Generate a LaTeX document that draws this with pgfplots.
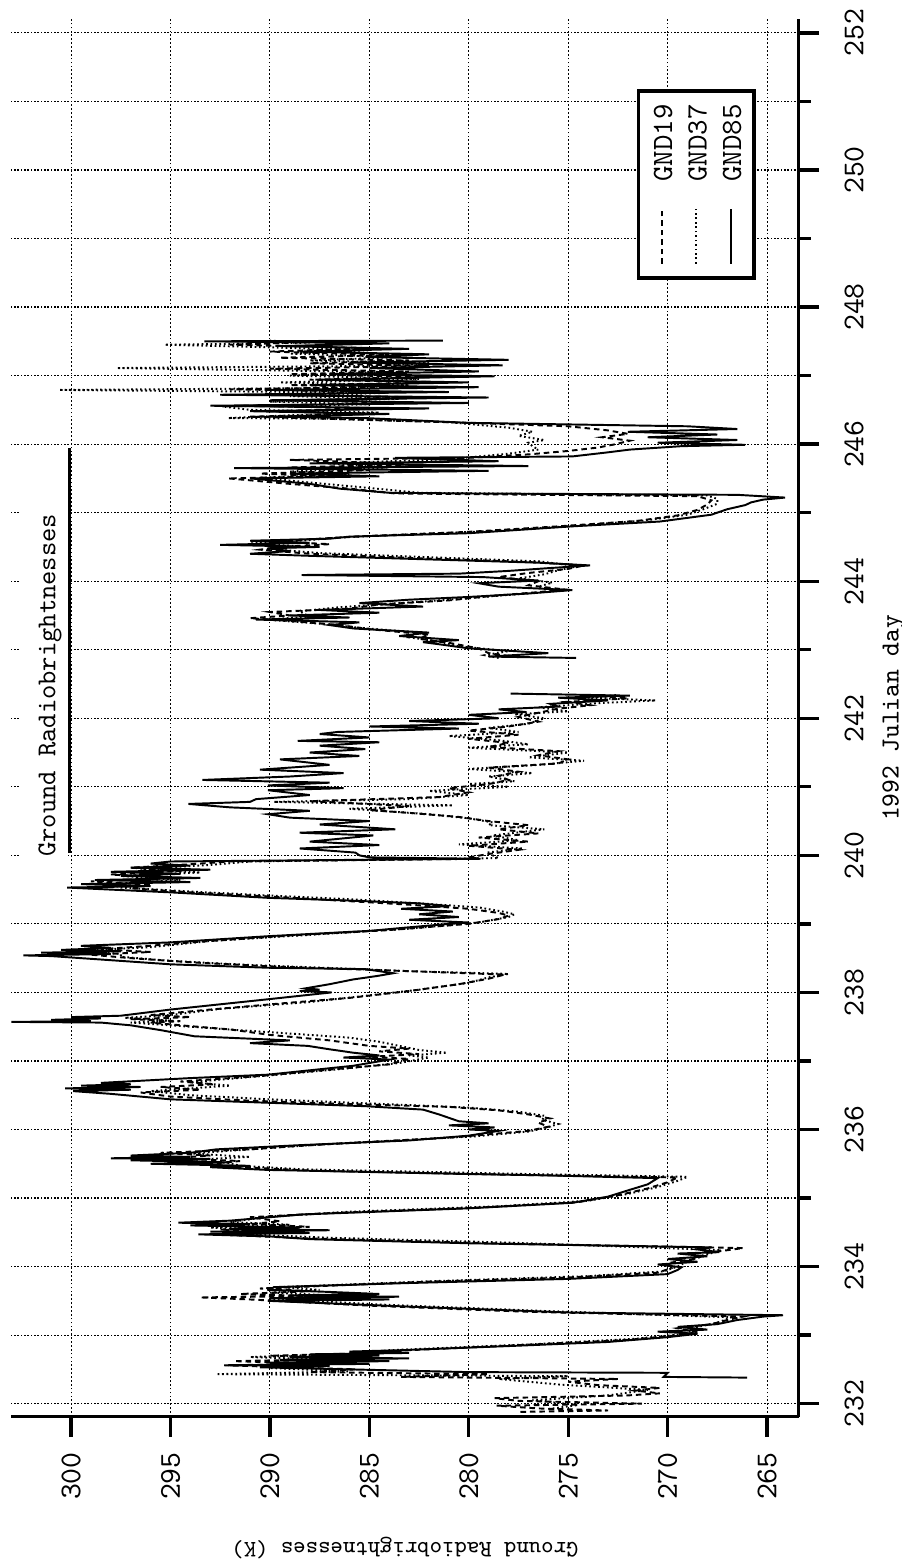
\documentclass[border=0pt]{standalone}
\usepackage{fontspec}
\usepackage{graphicx}
\usepackage{pgfplots}
\pgfplotsset{compat=1.18}
% typewriter face, spaced out like the Courier of the original
\newcommand\mono[1]{\ttfamily\fontsize{#1}{#1}\selectfont\addfontfeatures{LetterSpace=10}}

\begin{document}
\rotatebox{90}{%
\begin{tikzpicture}
\begin{axis}[
    scale only axis,
    width=503.1pt, height=283.7pt,
    xmin=231.81, xmax=252.2,
    ymin=263.4, ymax=303.03,
    axis lines*=left,
    axis line style={line width=1.1pt},
    xtick={232,234,...,252},
    minor xtick={233,235,...,251},
    ytick={265,270,...,300},
    tick align=outside,
    tick style={line width=1.2pt, black},
    major tick length=7.3pt,
    minor tick length=4.2pt,
    grid=both,
    major x grid style={line width=0.4pt, black, dash pattern=on 0.55pt off 0.65pt},
    minor x grid style={line width=0.4pt, black, dash pattern=on 0.55pt off 0.65pt},
    major y grid style={line width=0.4pt, black, dash pattern=on 0.6pt off 0.8pt},
    /pgf/number format/assume math mode=true,
    xticklabel={\pgfmathprintnumber{\tick}},
    yticklabel={\pgfmathprintnumber{\tick}},
    xticklabel style={font=\mono{10.9}, inner sep=0pt, yshift=-8.9pt},
    yticklabel style={font=\mono{10.9}, inner sep=0pt, xshift=-5.3pt},
    xlabel={1992 Julian day},
    xlabel style={font=\mono{9.4}, inner sep=0pt, anchor=north,
                  at={(axis description cs:0.5,-0.1054)}},
    ylabel={Ground Radiobrightnesses (K)},
    ylabel style={font=\mono{8.5}, inner sep=0pt, anchor=south,
                  at={(axis description cs:-0.0859,0.5)}},
    unbounded coords=jump,
    legend cell align=left,
    legend image code/.code={\draw[#1] (0pt,0pt) -- (19.8pt,0pt);},
    legend style={at={(0.950,0.0548)}, anchor=south east,
                  draw=black, line width=1.3pt,
                  inner xsep=4.8pt, inner ysep=4.6pt,
                  row sep=4.9pt, column sep=9.4pt,
                  font=\mono{10.6},
                  nodes={inner sep=0pt, text height=7.5pt, text depth=0pt}},
]

% GND19
\addplot[black, line width=0.7pt, dash pattern=on 2pt off 1.4pt] coordinates {
(231.88,277.4) (231.90,273.0) (231.93,276.5) (231.97,278.6) (232.00,271.3)
(232.04,277.5) (232.08,278.7) (232.12,272.0) (232.15,270.4) (232.19,271.6)
(232.23,270.4) (232.27,273.5) (232.32,275.0) (232.36,272.5) (232.39,283.4)
(232.43,279.0) (232.46,288.0) (232.50,285.7) (232.56,292.3) (232.58,287.0)
(232.62,291.8) (232.66,285.0) (232.70,290.0) (232.74,284.5) (232.78,283.0)
(232.86,277.0) (232.93,272.0) (232.99,269.8) (233.04,268.5) (233.10,269.5)
(233.16,267.8) (233.22,267.0) (233.27,266.2) (233.34,277.0) (233.43,285.0)
(233.52,291.0) (233.55,293.5) (233.57,288.0) (233.60,291.5) (233.64,288.0)
(233.68,290.5) (233.78,282.0) (233.84,275.0) (233.91,270.5) (233.98,269.8)
(234.05,270.0) (234.12,268.5) (234.20,268.0) (234.27,266.2) (234.34,279.0)
(234.41,288.0) (234.46,292.0) (234.50,289.0) (234.54,292.5) (234.58,288.0)
(234.62,291.0) (234.66,289.5) (234.72,291.0) (234.78,287.0) (234.86,279.5)
(234.94,274.5) (235.04,272.5) (235.14,271.0) (235.23,270.0) (235.30,269.5)
(235.34,278.0) (235.40,288.0) (235.46,292.0) (235.50,293.0) (235.54,291.5)
(235.58,295.0) (235.62,293.0) (235.66,295.5) (235.71,291.0) (235.76,288.6)
(235.82,285.0) (235.88,281.0) (235.93,279.0) (235.98,277.0) (236.04,276.0)
(236.10,276.5) (236.16,275.9) (236.22,277.0) (236.28,278.5) (236.33,281.0)
(236.37,286.0) (236.42,291.0) (236.48,295.0) (236.54,296.5) (236.58,293.5)
(236.62,295.5) (236.66,292.8) (236.70,294.5) (236.78,290.5) (236.86,287.5)
(236.95,284.0) (237.03,283.0) (237.06,285.0) (237.10,282.5) (237.14,284.5)
(237.18,283.0) (237.22,285.0) (237.30,287.0) (237.38,290.0) (237.46,292.0)
(237.52,294.5) (237.56,296.0) (237.58,294.5) (237.61,297.0) (237.64,294.0)
(237.67,296.0) (237.75,293.0) (237.85,289.0) (237.92,286.0) (238.02,283.0)
(238.12,280.5) (238.20,279.0) (238.26,278.2) (238.30,282.0) (238.33,285.0)
(238.38,290.0) (238.44,294.0) (238.50,297.0) (238.55,299.0) (238.59,296.0)
(238.63,298.5) (238.67,296.5) (238.74,293.5) (238.83,289.0) (238.91,284.0)
(239.00,280.0) (239.07,278.5) (239.12,278.0) (239.16,278.5) (239.22,280.0)
(239.28,283.0) (239.34,286.5) (239.40,290.0) (239.46,294.0) (239.52,297.0)
(239.57,296.0) (239.62,299.0) (239.67,295.0) (239.72,298.0) (239.77,294.5)
(239.82,297.0) (239.87,294.0) (239.91,292.0) (239.95,279.4) (239.97,280.0)
(240.02,279.0) (240.08,277.5) (240.14,280.0) (240.20,277.0) (240.26,279.5)
(240.32,276.5) (240.38,278.5) (240.44,277.0) (240.50,279.0) (240.56,280.5)
(240.62,283.0) (240.66,285.0) (240.72,283.0) (240.79,288.0) (240.85,281.5)
(240.92,280.0) (240.98,281.0) (241.04,279.0) (241.10,278.0) (241.16,278.5)
(241.22,277.5) (241.28,279.0) (241.34,275.5) (241.40,275.0) (241.46,276.5)
(241.52,275.5) (241.58,279.0) (241.64,278.0) (241.70,280.0) (241.76,277.5)
(241.82,280.0) (241.88,278.0) (241.95,276.5) (242.02,277.5) (242.08,276.5)
(242.14,275.5) (242.19,273.9) (242.24,275.0) (242.29,272.0) (242.34,274.0)
(242.6,nan)
(242.89,277.5) (242.95,279.0) (243.02,279.5) (243.10,281.0) (243.16,282.5)
(243.22,282.0) (243.30,285.0) (243.36,286.5) (243.42,289.0) (243.46,291.0)
(243.50,289.0) (243.55,290.0) (243.60,286.0) (243.66,284.5) (243.72,281.0)
(243.78,279.0) (243.84,276.5) (243.88,275.2) (243.94,277.0) (244.00,276.5)
(244.06,278.5) (244.12,277.0) (244.18,275.0) (244.23,274.2) (244.28,277.0)
(244.34,283.0) (244.40,288.0) (244.46,290.5) (244.50,289.5) (244.54,287.0)
(244.58,289.8) (244.62,287.5) (244.66,285.0) (244.72,280.0) (244.80,275.5)
(244.88,271.5) (244.96,269.5) (245.04,268.5) (245.12,268.0) (245.18,267.8)
(245.24,268.5) (245.28,283.7) (245.35,286.0) (245.42,289.0) (245.50,292.1)
(245.53,287.0) (245.57,290.5) (245.62,285.0) (245.66,289.0) (245.70,283.0)
(245.74,286.0) (245.77,289.0) (245.80,280.0) (245.85,277.0) (245.90,275.0)
(245.95,273.5) (246.00,272.6) (246.05,271.9) (246.10,273.3) (246.15,272.0)
(246.20,273.0) (246.26,275.0) (246.31,280.0) (246.36,286.0) (246.40,291.0)
(246.44,285.0) (246.48,290.0) (246.52,284.0) (246.56,291.5) (246.60,283.0)
(246.64,289.0) (246.68,282.0) (246.72,290.0) (246.76,284.0) (246.80,292.0)
(246.84,283.0) (246.86,289.0) (246.90,281.0) (246.94,288.0) (246.98,282.0)
(247.02,289.0) (247.06,283.0) (247.10,290.0) (247.14,282.0) (247.18,288.0)
(247.22,283.0) (247.26,289.5) (247.30,284.0) (247.35,290.0) (247.40,285.0)
(247.45,292.0) (247.50,287.0)
};
\addlegendentry{GND19}

% GND37
\addplot[black, line width=0.7pt, dash pattern=on 0.6pt off 1pt] coordinates {
(231.92,276.0) (231.98,274.5) (232.05,276.8) (232.12,273.0) (232.20,271.0)
(232.28,275.5) (232.36,278.5) (232.40,275.0) (232.43,292.7) (232.47,286.0)
(232.52,290.0) (232.58,290.0) (232.63,286.0) (232.68,291.0) (232.73,285.5)
(232.78,284.0) (232.87,276.5) (232.95,271.5) (233.02,269.0) (233.10,268.8)
(233.18,267.5) (233.26,266.8) (233.35,276.0) (233.44,284.0) (233.53,290.0)
(233.58,287.0) (233.62,290.0) (233.66,287.5) (233.70,289.5) (233.79,281.5)
(233.86,274.0) (233.93,270.2) (234.00,269.5) (234.08,269.0) (234.16,268.2)
(234.24,267.3) (234.35,278.0) (234.42,287.0) (234.47,291.0) (234.52,290.0)
(234.57,293.0) (234.61,289.0) (234.65,292.0) (234.73,290.0) (234.80,286.0)
(234.88,278.5) (234.96,274.0) (235.06,272.0) (235.16,270.5) (235.25,269.5)
(235.31,269.0) (235.35,277.0) (235.42,288.5) (235.47,291.5) (235.51,292.0)
(235.55,294.5) (235.60,291.0) (235.65,294.0) (235.72,290.5) (235.78,287.5)
(235.85,283.0) (235.90,279.7) (235.97,277.0) (236.02,276.2) (236.08,275.5)
(236.14,276.3) (236.20,276.2) (236.26,277.5) (236.32,280.0) (236.38,285.0)
(236.44,290.0) (236.50,294.0) (236.56,296.0) (236.59,294.5) (236.64,292.0)
(236.69,294.0) (236.79,290.0) (236.88,286.5) (236.97,283.5) (237.05,282.0)
(237.08,283.0) (237.12,281.1) (237.16,282.5) (237.22,283.5) (237.28,284.5)
(237.34,286.0) (237.42,290.0) (237.46,292.1) (237.52,295.0) (237.56,297.0)
(237.59,295.0) (237.63,297.3) (237.67,295.0) (237.76,292.5) (237.86,288.0)
(237.94,285.5) (238.04,282.5) (238.14,280.0) (238.22,279.0) (238.27,278.0)
(238.31,283.0) (238.34,285.5) (238.40,291.0) (238.46,295.0) (238.52,297.5)
(238.56,297.5) (238.61,299.5) (238.66,296.0) (238.75,293.0) (238.84,288.0)
(238.93,283.0) (239.02,279.5) (239.10,278.0) (239.14,277.7) (239.18,278.3)
(239.24,279.5) (239.30,282.5) (239.36,286.0) (239.42,290.5) (239.48,294.5)
(239.53,297.5) (239.58,298.0) (239.64,294.5) (239.70,297.5) (239.75,293.5)
(239.80,296.5) (239.86,293.0) (239.91,291.0) (239.96,278.5) (240.04,279.1)
(240.10,277.3) (240.16,280.5) (240.22,277.5) (240.29,278.8) (240.38,276.2)
(240.44,279.0) (240.48,278.8) (240.54,280.0) (240.60,282.0) (240.68,286.0)
(240.73,280.8) (240.78,289.8) (240.82,283.0) (240.88,280.0) (240.94,282.0)
(241.00,278.0) (241.04,280.0) (241.08,277.7) (241.15,279.0) (241.20,276.8)
(241.26,280.0) (241.32,276.5) (241.38,274.2) (241.43,277.0) (241.50,275.0)
(241.57,280.0) (241.62,277.0) (241.68,278.5) (241.74,281.0) (241.80,277.5)
(241.86,279.0) (241.92,277.0) (242.00,276.2) (242.06,277.7) (242.10,275.0)
(242.16,276.5) (242.22,273.5) (242.26,270.6) (242.30,274.0) (242.34,272.5)
(242.6,nan)
(242.88,278.5) (242.92,279.2) (242.98,278.0) (243.05,280.5) (243.12,281.5)
(243.18,283.0) (243.25,282.5) (243.32,285.5) (243.38,287.5) (243.44,290.2)
(243.48,288.0) (243.56,288.5) (243.62,286.5) (243.68,283.5) (243.74,280.5)
(243.80,278.0) (243.86,275.5) (243.92,276.5) (243.98,275.8) (244.04,277.5)
(244.10,276.2) (244.16,275.5) (244.22,274.5) (244.29,276.5) (244.35,282.0)
(244.41,287.5) (244.47,290.0) (244.51,288.5) (244.55,291.0) (244.60,288.0)
(244.64,286.5) (244.73,279.0) (244.81,274.5) (244.89,271.0) (244.97,269.0)
(245.05,268.2) (245.13,267.5) (245.20,267.5) (245.25,268.0) (245.29,282.5)
(245.36,285.0) (245.44,288.0) (245.51,290.5) (245.56,286.0) (245.60,289.0)
(245.66,284.0) (245.72,287.0) (245.78,281.0) (245.86,278.0) (245.92,276.5)
(245.97,276.8) (246.02,277.0) (246.06,276.2) (246.12,277.5) (246.18,276.8)
(246.24,278.0) (246.32,281.0) (246.37,287.0) (246.38,292.1) (246.42,289.0)
(246.46,284.5) (246.50,291.0) (246.55,292.4) (246.58,285.0) (246.62,290.0)
(246.66,283.5) (246.70,289.0) (246.75,284.0) (246.79,300.6) (246.82,286.0)
(246.86,283.0) (246.90,289.5) (246.95,282.5) (247.00,289.0) (247.05,284.0)
(247.11,297.7) (247.14,285.0) (247.18,282.0) (247.22,288.0) (247.27,283.5)
(247.32,289.0) (247.37,285.0) (247.42,291.0) (247.45,295.3) (247.48,288.0)
(247.51,290.0)
};
\addlegendentry{GND37}

% GND85
\addplot[black, line width=0.7pt] coordinates {
(232.38,266.0) (232.39,270.2) (232.45,270.0) (232.46,280.0) (232.50,286.0)
(232.53,290.5) (232.55,287.0) (232.56,292.1) (232.58,285.0) (232.60,290.0)
(232.62,284.0) (232.64,289.5) (232.66,283.0) (232.68,289.0) (232.70,284.5)
(232.72,288.0) (232.74,283.0) (232.76,286.0) (232.78,283.4) (232.84,278.0)
(232.90,273.0) (232.97,270.0) (233.02,268.5) (233.05,270.5) (233.08,268.0)
(233.12,269.5) (233.16,267.5) (233.22,266.5) (233.27,265.2) (233.29,264.2)
(233.33,275.0) (233.42,283.4) (233.50,290.1) (233.52,284.0) (233.54,290.0)
(233.56,283.5) (233.58,289.0) (233.60,284.5) (233.63,287.0) (233.66,290.0)
(233.70,289.8) (233.76,283.0) (233.82,275.0) (233.89,270.0) (233.95,269.5)
(233.99,269.3) (234.03,270.5) (234.07,268.5) (234.11,270.0) (234.15,268.0)
(234.19,269.5) (234.21,267.4) (234.25,268.5) (234.28,267.8) (234.34,280.0)
(234.40,288.0) (234.44,290.0) (234.47,293.6) (234.49,288.0) (234.51,293.0)
(234.53,287.0) (234.55,292.0) (234.57,288.5) (234.60,294.0) (234.62,291.0)
(234.64,294.6) (234.67,292.0) (234.72,290.0) (234.76,288.4) (234.85,280.0)
(234.93,274.8) (235.02,273.0) (235.12,271.9) (235.20,271.0) (235.29,270.5)
(235.33,276.0) (235.35,280.0) (235.41,290.1) (235.45,293.0) (235.47,291.0)
(235.50,296.0) (235.52,292.0) (235.55,297.0) (235.57,293.0) (235.58,298.0)
(235.60,294.0) (235.62,297.0) (235.66,294.0) (235.71,292.7) (235.77,288.6)
(235.84,283.0) (235.91,280.0) (235.98,278.5) (236.00,280.0) (236.03,278.7)
(236.06,281.0) (236.09,279.0) (236.12,280.5) (236.15,280.8) (236.22,281.5)
(236.29,282.3) (236.34,285.2) (236.39,290.1) (236.44,295.0) (236.52,298.0)
(236.56,299.9) (236.58,297.0) (236.60,300.3) (236.62,296.5) (236.64,299.5)
(236.66,297.0) (236.68,298.5) (236.75,294.0) (236.80,290.1) (236.93,285.8)
(237.02,284.0) (237.05,286.3) (237.08,284.5) (237.12,285.8) (237.17,287.0)
(237.22,288.1) (237.26,291.0) (237.30,289.0) (237.36,293.8) (237.45,295.5)
(237.52,297.0) (237.56,298.5) (237.57,303.0) (237.58,299.0) (237.60,301.0)
(237.62,298.5) (237.64,300.0) (237.66,297.5) (237.75,295.0) (237.90,290.1)
(238.00,286.9) (238.02,288.5) (238.04,287.5) (238.06,288.2) (238.12,287.0)
(238.19,285.8) (238.24,284.6) (238.28,283.8) (238.34,285.2) (238.36,290.1)
(238.41,295.0) (238.48,298.5) (238.53,301.0) (238.54,302.4) (238.56,298.0)
(238.58,301.5) (238.60,297.5) (238.62,300.5) (238.65,298.0) (238.68,299.5)
(238.73,295.0) (238.82,290.1) (238.90,284.9) (238.95,283.0) (238.99,281.4)
(239.02,280.0) (239.06,283.0) (239.10,280.5) (239.14,282.5) (239.18,280.8)
(239.22,283.4) (239.26,281.0) (239.30,282.5) (239.34,286.0) (239.38,290.1)
(239.46,295.0) (239.50,298.0) (239.53,300.2) (239.55,296.0) (239.58,299.5)
(239.61,294.0) (239.64,298.8) (239.67,293.5) (239.70,297.5) (239.73,294.5)
(239.76,298.0) (239.79,293.0) (239.82,297.0) (239.85,294.0) (239.88,296.0)
(239.91,295.0) (239.95,279.4) (239.97,285.0) (240.00,285.5) (240.04,285.7)
(240.10,288.5) (240.15,284.5) (240.20,288.0) (240.29,284.8) (240.33,288.5)
(240.38,283.7) (240.45,287.5) (240.50,285.0) (240.55,289.0) (240.60,290.1)
(240.65,288.0) (240.70,292.0) (240.75,294.1) (240.78,291.0) (240.82,290.7)
(240.88,288.0) (240.95,290.1) (240.98,286.3) (241.02,290.1) (241.06,287.0)
(241.10,293.4) (241.15,289.0) (241.20,286.3) (241.25,290.5) (241.32,287.0)
(241.40,289.5) (241.45,285.5) (241.50,288.0) (241.55,285.2) (241.60,287.5)
(241.65,284.5) (241.67,288.6) (241.72,285.0) (241.77,287.5) (241.80,286.6)
(241.85,280.5) (241.88,285.0) (241.92,279.5) (241.96,283.0) (242.00,278.5)
(242.05,280.0) (242.09,277.1) (242.13,278.5) (242.17,275.5) (242.21,275.9)
(242.26,273.0) (242.30,275.5) (242.33,271.9) (242.36,277.9)
(242.6,nan)
(242.88,274.6) (242.90,279.0) (242.95,276.0) (243.02,280.0) (243.08,281.5)
(243.11,282.3) (243.14,280.5) (243.20,283.5) (243.25,282.0) (243.31,285.8)
(243.36,287.0) (243.40,285.5) (243.44,290.7) (243.47,286.0) (243.50,289.0)
(243.54,284.5) (243.58,287.5) (243.63,282.3) (243.68,285.5) (243.73,283.0)
(243.77,280.0) (243.82,277.0) (243.87,274.8) (243.92,278.5) (243.97,279.5)
(244.01,276.5) (244.06,279.3) (244.09,288.4) (244.11,280.5) (244.15,278.0)
(244.19,276.0) (244.23,273.9) (244.27,276.5) (244.33,283.4) (244.37,288.0)
(244.40,291.0) (244.44,289.0) (244.48,290.1) (244.50,287.5) (244.53,292.5)
(244.56,288.0) (244.59,291.0) (244.62,287.0) (244.65,286.0) (244.70,280.0)
(244.80,274.8) (244.87,270.4) (244.97,267.8) (245.05,267.0) (245.11,266.1)
(245.15,265.8) (245.19,265.2) (245.22,264.1) (245.26,266.5) (245.28,280.0)
(245.29,284.0) (245.35,286.5) (245.42,288.0) (245.50,291.0) (245.53,284.5)
(245.57,289.0) (245.61,279.0) (245.65,291.8) (245.68,277.0) (245.72,288.0)
(245.75,278.5) (245.80,283.7) (245.82,274.8) (245.88,273.0) (245.92,271.9)
(245.97,269.3) (245.99,266.1) (246.02,270.5) (246.06,266.5) (246.10,271.0)
(246.14,267.5) (246.18,272.0) (246.22,266.5) (246.26,269.0) (246.31,280.0)
(246.38,285.2) (246.40,290.1) (246.44,284.0) (246.48,291.0) (246.52,282.0)
(246.56,293.0) (246.60,280.0) (246.64,290.0) (246.68,279.0) (246.72,292.5)
(246.76,281.0) (246.79,290.0) (246.83,279.5) (246.86,288.0) (246.90,280.0)
(246.94,287.5) (246.99,278.7) (247.02,287.0) (247.06,279.5) (247.11,285.0)
(247.15,278.3) (247.19,286.0) (247.23,278.0) (247.27,285.2) (247.31,282.0)
(247.35,288.5) (247.39,283.0) (247.43,289.5) (247.47,284.0) (247.50,293.3)
(247.51,281.3)
};
\addlegendentry{GND85}

% title box, text and underline
\fill[white] (axis cs:239.97,300.15) rectangle (axis cs:245.95,302.55);
\node[anchor=base west, inner sep=0pt, font=\mono{9.8}] at (axis cs:239.97,300.79) {Ground Radiobrightnesses};
\draw[line width=1.1pt] (axis cs:240.04,300.1) -- (axis cs:245.94,300.1);
\end{axis}
\pgfresetboundingbox
\path[use as bounding box] (current axis.south west) ++(-53.4pt,-37.1pt) rectangle ++(563.4pt,324.7pt);
\end{tikzpicture}}
\end{document}
